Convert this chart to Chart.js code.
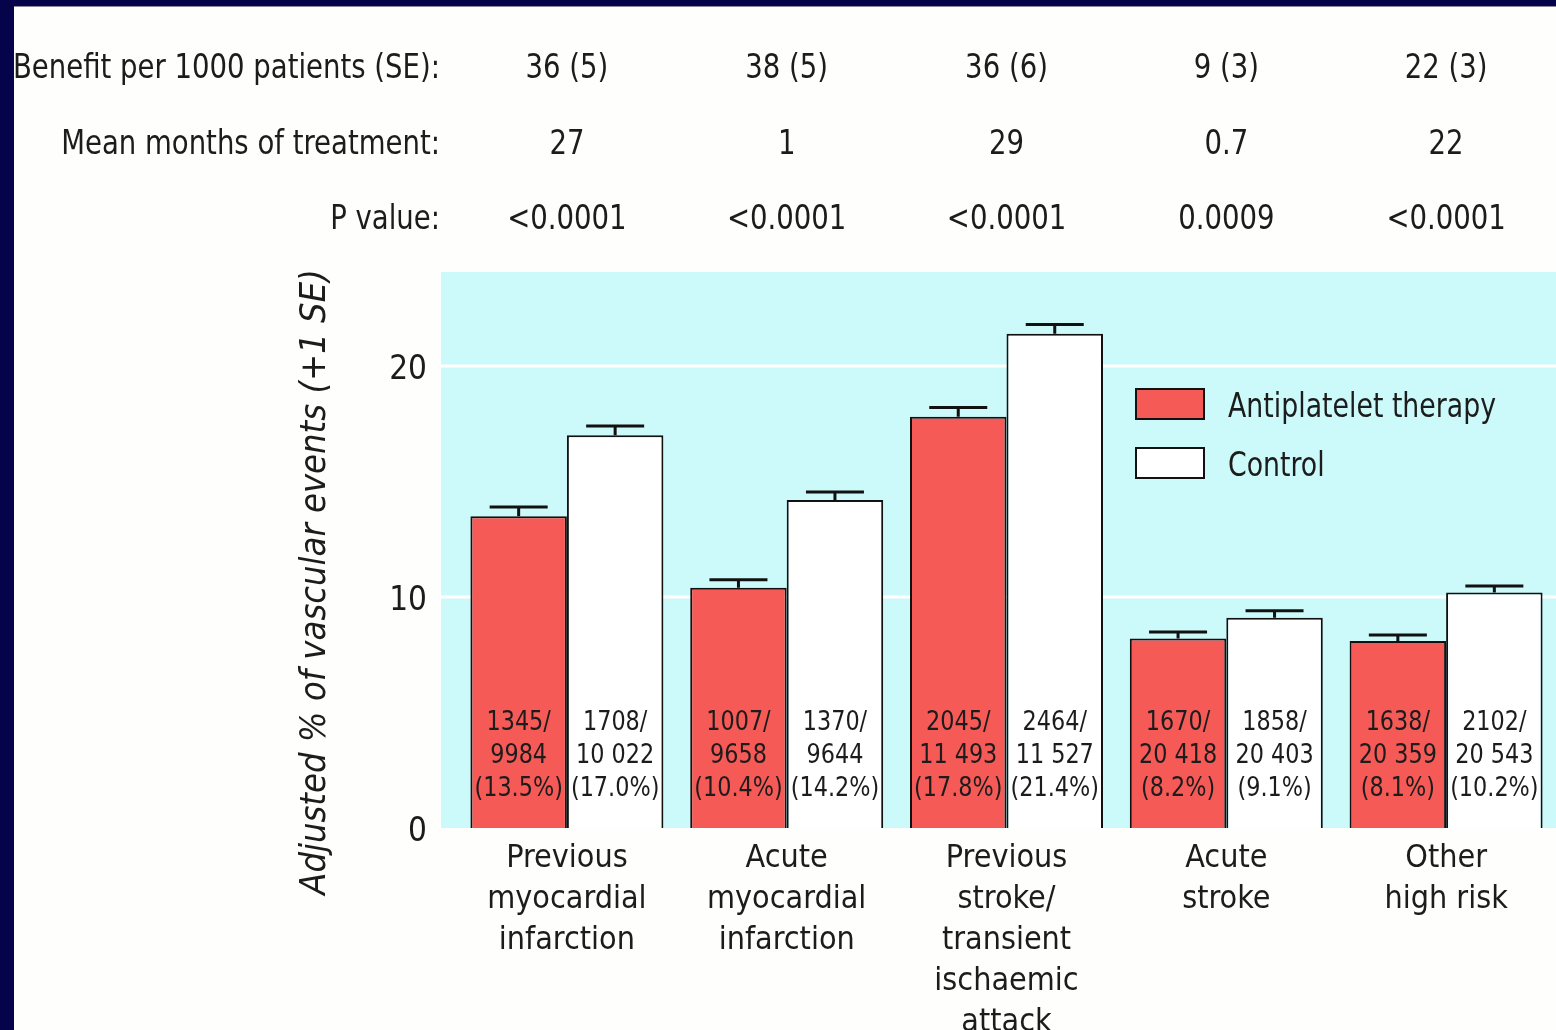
<!DOCTYPE html>
<html>
<head>
<meta charset="utf-8">
<script src="https://cdn.jsdelivr.net/npm/chart.js@4.4.1/dist/chart.umd.min.js"></script>
<style>
  html, body { margin: 0; padding: 0; background: #fefefc; overflow: hidden; }
  #wrap { position: relative; width: 1556px; height: 1030px; }
</style>
</head>
<body>
<div id="wrap"><canvas id="c" width="1556" height="1030"></canvas></div>
<script>
// Categories (multi-line axis labels)
const categories = [
  ['Previous', 'myocardial', 'infarction'],
  ['Acute', 'myocardial', 'infarction'],
  ['Previous', 'stroke/', 'transient', 'ischaemic', 'attack'],
  ['Acute', 'stroke'],
  ['Other', 'high risk']
];

// Adjusted % of vascular events
const antiplatelet = [13.5, 10.4, 17.8, 8.2, 8.1];
const control      = [17.0, 14.2, 21.4, 9.1, 10.2];

// Standard errors (drawn as +1 SE whiskers)
const seAntiplatelet = [0.4, 0.35, 0.4, 0.28, 0.25];
const seControl      = [0.4, 0.35, 0.4, 0.3, 0.28];

// Events / patients in each arm
const eventsAntiplatelet = ['1345', '1007', '2045', '1670', '1638'];
const totalAntiplatelet  = ['9984', '9658', '11 493', '20 418', '20 359'];
const eventsControl      = ['1708', '1370', '2464', '1858', '2102'];
const totalControl       = ['10 022', '9644', '11 527', '20 403', '20 543'];

// Summary rows above the chart
const rowLabels = ['Benefit per 1000 patients (SE):', 'Mean months of treatment:', 'P value:'];
const benefit   = ['36 (5)', '38 (5)', '36 (6)', '9 (3)', '22 (3)'];
const months    = ['27', '1', '29', '0.7', '22'];
const pValues   = ['<0.0001', '<0.0001', '<0.0001', '0.0009', '<0.0001'];

const yTicks = [0, 10, 20];

const FONT = '"Liberation Sans Narrow", "DejaVu Sans Condensed", "Noto Sans", sans-serif';
const INK = '#1c1c1c';
const RED = '#f65a57';
const CYAN = '#ccf9fa';
const NAVY = '#05044a';
const NARROW = 0.92;   // horizontal squeeze for the condensed lettering

// Text drawn with a horizontal squeeze; align is 'left' | 'center' | 'right'
function narrowText(ctx, text, x, y, align, sx) {
  ctx.save();
  ctx.translate(x, y);
  ctx.scale(sx, 1);
  ctx.textAlign = align;
  ctx.textBaseline = 'middle';
  ctx.fillText(text, 0, 0);
  ctx.restore();
}

const backdrop = {
  id: 'backdrop',
  beforeDraw(chart) {
    const { ctx, chartArea: a, scales } = chart;
    ctx.save();
    ctx.fillStyle = CYAN;
    ctx.fillRect(a.left - 16, a.top, a.right - a.left + 16, a.bottom - a.top);
    // white reference lines across the full panel
    ctx.strokeStyle = '#ffffff';
    ctx.lineWidth = 3;
    yTicks.forEach(v => {
      if (v === 0) return;
      const py = scales.y.getPixelForValue(v);
      ctx.beginPath();
      ctx.moveTo(a.left - 16, py);
      ctx.lineTo(a.right, py);
      ctx.stroke();
    });
    ctx.restore();
  }
};

const extras = {
  id: 'extras',
  afterDatasetsDraw(chart) {
    const { ctx, scales } = chart;
    const y = scales.y;
    const ses = [seAntiplatelet, seControl];
    const events = [eventsAntiplatelet, eventsControl];
    const totals = [totalAntiplatelet, totalControl];
    ctx.save();
    chart.data.datasets.forEach((ds, di) => {
      const meta = chart.getDatasetMeta(di);
      meta.data.forEach((bar, i) => {
        const v = ds.data[i];
        const top = y.getPixelForValue(v);
        const hi = y.getPixelForValue(v + ses[di][i]);
        // whisker
        ctx.strokeStyle = '#111';
        ctx.lineWidth = 3;
        ctx.beginPath();
        ctx.moveTo(bar.x, top);
        ctx.lineTo(bar.x, hi);
        ctx.moveTo(bar.x - 29, hi);
        ctx.lineTo(bar.x + 29, hi);
        ctx.stroke();
        // counts inside the bar
        ctx.fillStyle = INK;
        ctx.font = '27px ' + FONT;
        const b = y.getPixelForValue(0);
        narrowText(ctx, events[di][i] + '/', bar.x, b - 105, 'center', NARROW);
        narrowText(ctx, totals[di][i], bar.x, b - 72, 'center', NARROW);
        narrowText(ctx, '(' + v.toFixed(1) + '%)', bar.x, b - 39, 'center', NARROW);
      });
    });
    ctx.restore();
  },
  afterDraw(chart) {
    const { ctx, scales, chartArea: a } = chart;
    const x = scales.x;
    ctx.save();
    // summary rows
    const rows = [benefit, months, pValues];
    const rowY = [69, 145, 220];
    ctx.fillStyle = INK;
    ctx.font = '34px ' + FONT;
    rowLabels.forEach((lab, r) => {
      narrowText(ctx, lab, a.left - 17, rowY[r], 'right', 0.9);
      rows[r].forEach((t, i) => narrowText(ctx, t, x.getPixelForValue(i), rowY[r], 'center', 0.9));
    });
    // y-axis title
    ctx.save();
    ctx.translate(316, 582);
    ctx.rotate(-Math.PI / 2);
    ctx.font = 'italic 36px ' + FONT;
    ctx.textAlign = 'center';
    ctx.textBaseline = 'middle';
    ctx.fillText('Adjusted % of vascular events (+1 SE)', 0, 0);
    ctx.restore();
    // legend
    chart.data.datasets.forEach((ds, di) => {
      const ly = 389 + di * 59;
      ctx.fillStyle = ds.backgroundColor;
      ctx.fillRect(1136, ly, 68, 30);
      ctx.strokeStyle = '#111';
      ctx.lineWidth = 2;
      ctx.strokeRect(1136, ly, 68, 30);
      ctx.fillStyle = INK;
      ctx.font = '34px ' + FONT;
      narrowText(ctx, ds.label, 1228, ly + 19, 'left', 0.875);
    });
    // frame
    ctx.fillStyle = NAVY;
    ctx.fillRect(0, 0, chart.width, 6);
    ctx.fillStyle = '#8a8a9a';
    ctx.fillRect(0, 6, chart.width, 1);
    ctx.fillStyle = NAVY;
    ctx.fillRect(0, 0, 14, chart.height);
    ctx.restore();
  }
};

new Chart(document.getElementById('c'), {
  type: 'bar',
  data: {
    labels: categories,
    datasets: [
      { label: 'Antiplatelet therapy', data: antiplatelet, backgroundColor: RED, borderColor: '#111', borderWidth: 2 },
      { label: 'Control', data: control, backgroundColor: '#ffffff', borderColor: '#111', borderWidth: 2 }
    ]
  },
  options: {
    responsive: false,
    animation: false,
    events: [],
    layout: { padding: { top: 272, left: 0, right: 0, bottom: 0 } },
    datasets: { bar: { categoryPercentage: 0.878, barPercentage: 1.0 } },
    plugins: { legend: { display: false }, tooltip: { enabled: false } },
    scales: {
      x: {
        grid: { display: false, drawTicks: false },
        border: { display: false },
        ticks: { color: INK, font: { family: FONT, size: 32, lineHeight: 1.28 }, padding: 10, maxRotation: 0, autoSkip: false },
        afterFit(s) { s.height = 202; }
      },
      y: {
        min: 0,
        max: 24.07,
        grid: { display: false, drawTicks: false },
        border: { display: false },
        afterBuildTicks(s) { s.ticks = yTicks.map(v => ({ value: v })); },
        ticks: { color: INK, font: { family: FONT, size: 33 }, padding: 30, labelOffset: 4 },
        afterFit(s) { s.width = 457; }
      }
    }
  },
  plugins: [backdrop, extras]
});
</script>
</body>
</html>
